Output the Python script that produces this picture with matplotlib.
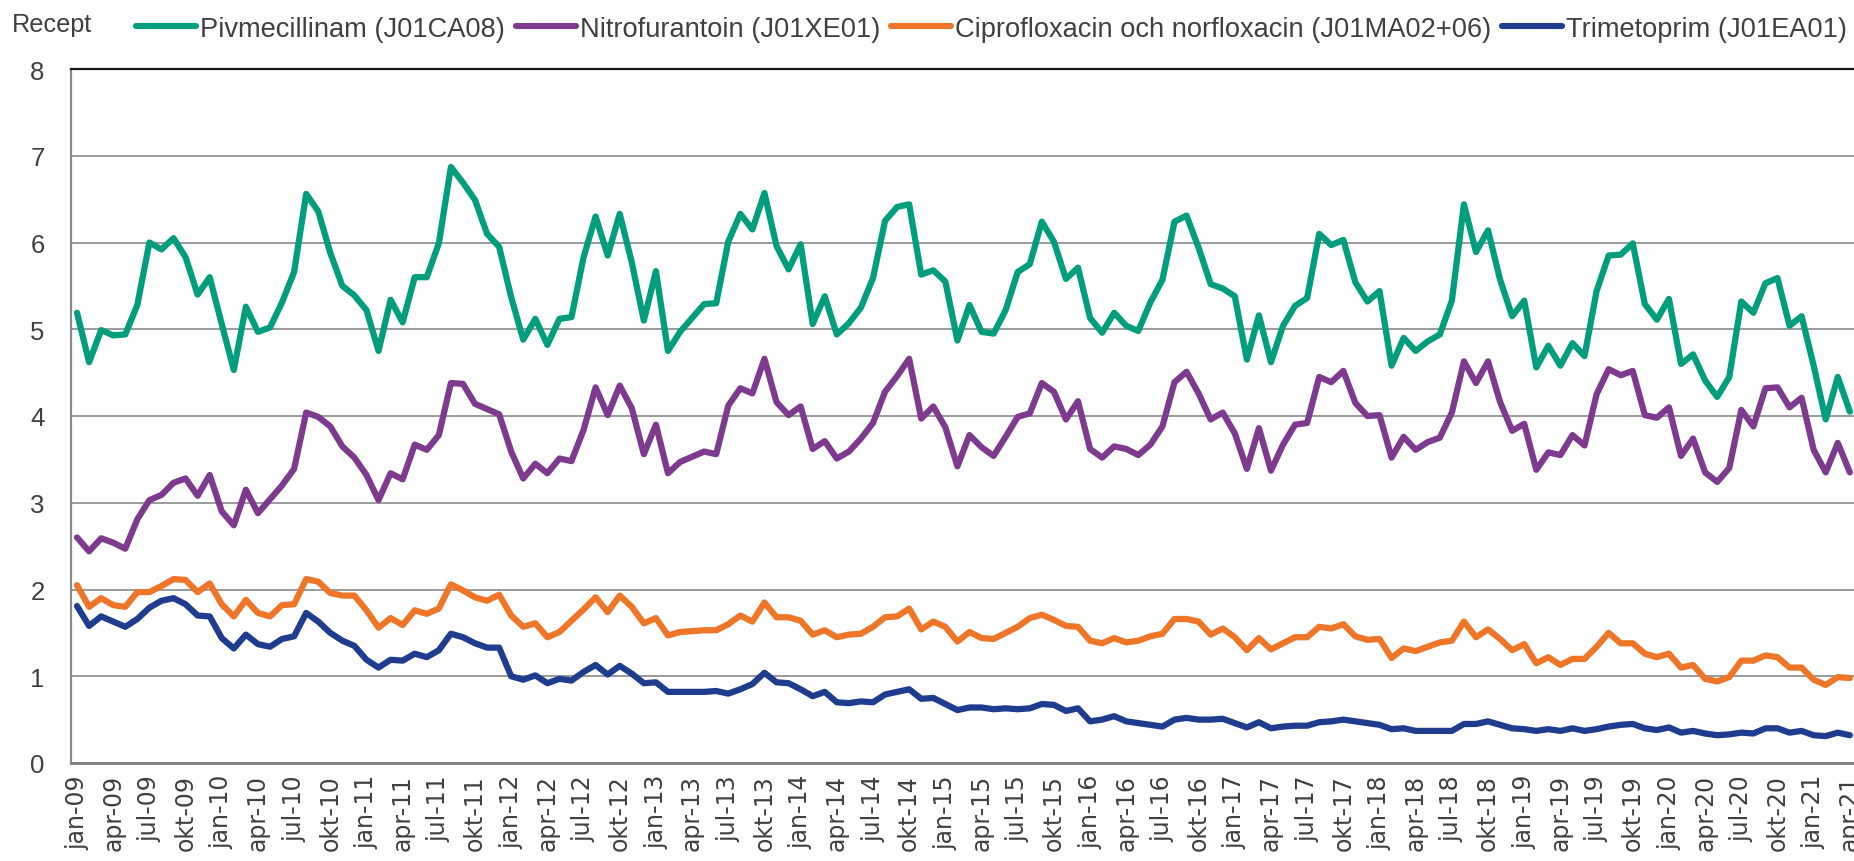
import matplotlib
matplotlib.use("Agg")
import matplotlib.pyplot as plt
import numpy as np

# ---------------- data (monthly, jan-09 .. apr-21) ----------------
month_names = ["jan", "feb", "mar", "apr", "maj", "jun", "jul", "aug", "sep", "okt", "nov", "dec"]
years = list(range(9, 22))

pivmecillinam = [
    5.19, 4.62, 4.99, 4.93, 4.94, 5.28, 6.00, 5.92, 6.05, 5.83, 5.40, 5.60,
    5.06, 4.53, 5.26, 4.97, 5.02, 5.31, 5.66, 6.56, 6.36, 5.88, 5.50, 5.39,
    5.22, 4.75, 5.34, 5.08, 5.60, 5.60, 5.99, 6.87, 6.69, 6.49, 6.10, 5.95,
    5.37, 4.88, 5.12, 4.82, 5.12, 5.14, 5.83, 6.30, 5.85, 6.33, 5.77, 5.10,
    5.67, 4.75, 4.97, 5.13, 5.29, 5.30, 6.01, 6.33, 6.15, 6.57, 5.96, 5.69,
    5.98, 5.06, 5.38, 4.94, 5.07, 5.25, 5.59, 6.25, 6.41, 6.44, 5.63, 5.68,
    5.55, 4.87, 5.28, 4.97, 4.95, 5.22, 5.66, 5.75, 6.24, 6.01, 5.58, 5.71,
    5.13, 4.96, 5.19, 5.04, 4.98, 5.31, 5.57, 6.24, 6.31, 5.94, 5.52, 5.47,
    5.38, 4.65, 5.16, 4.62, 5.04, 5.27, 5.36, 6.10, 5.97, 6.03, 5.54, 5.32,
    5.44, 4.58, 4.90, 4.75, 4.86, 4.94, 5.33, 6.44, 5.89, 6.14, 5.57, 5.15,
    5.33, 4.56, 4.81, 4.58, 4.84, 4.69, 5.44, 5.85, 5.86, 5.99, 5.29, 5.11,
    5.35, 4.60, 4.71, 4.41, 4.22, 4.45, 5.32, 5.19, 5.53, 5.59, 5.04, 5.15,
    4.58, 3.96, 4.45, 4.05,
]

nitrofurantoin = [
    2.60, 2.44, 2.59, 2.54, 2.47, 2.81, 3.03, 3.09, 3.23, 3.28, 3.08, 3.32,
    2.90, 2.74, 3.15, 2.88, 3.04, 3.20, 3.39, 4.04, 3.99, 3.88, 3.65, 3.52,
    3.32, 3.03, 3.34, 3.27, 3.67, 3.61, 3.78, 4.38, 4.37, 4.14, 4.08, 4.02,
    3.59, 3.28, 3.45, 3.34, 3.51, 3.48, 3.84, 4.33, 4.01, 4.35, 4.09, 3.56,
    3.90, 3.34, 3.47, 3.53, 3.59, 3.56, 4.12, 4.32, 4.26, 4.66, 4.16, 4.01,
    4.11, 3.62, 3.71, 3.51, 3.59, 3.74, 3.92, 4.28, 4.46, 4.66, 3.97, 4.11,
    3.87, 3.42, 3.78, 3.64, 3.54, 3.76, 3.99, 4.03, 4.38, 4.28, 3.96, 4.17,
    3.62, 3.52, 3.65, 3.62, 3.55, 3.67, 3.88, 4.39, 4.51, 4.26, 3.96, 4.04,
    3.80, 3.39, 3.86, 3.37, 3.67, 3.90, 3.92, 4.45, 4.39, 4.52, 4.15, 4.00,
    4.01, 3.52, 3.76, 3.61, 3.70, 3.75, 4.04, 4.63, 4.38, 4.63, 4.16, 3.83,
    3.91, 3.38, 3.58, 3.55, 3.78, 3.66, 4.25, 4.54, 4.47, 4.52, 4.01, 3.98,
    4.10, 3.54, 3.74, 3.35, 3.24, 3.40, 4.07, 3.88, 4.32, 4.33, 4.10, 4.21,
    3.61, 3.35, 3.69, 3.35,
]

cipro_norflox = [
    2.05, 1.80, 1.90, 1.82, 1.80, 1.97, 1.97, 2.04, 2.12, 2.11, 1.97, 2.07,
    1.83, 1.69, 1.88, 1.73, 1.69, 1.82, 1.83, 2.12, 2.09, 1.96, 1.93, 1.93,
    1.76, 1.56, 1.67, 1.59, 1.76, 1.72, 1.78, 2.06, 1.99, 1.91, 1.87, 1.94,
    1.70, 1.57, 1.61, 1.45, 1.51, 1.64, 1.77, 1.91, 1.74, 1.93, 1.80, 1.61,
    1.67, 1.47, 1.51, 1.52, 1.53, 1.53, 1.60, 1.70, 1.63, 1.85, 1.68, 1.68,
    1.64, 1.48, 1.53, 1.45, 1.48, 1.49, 1.57, 1.68, 1.69, 1.78, 1.54, 1.63,
    1.57, 1.40, 1.51, 1.44, 1.43, 1.50, 1.57, 1.67, 1.71, 1.65, 1.58, 1.57,
    1.41, 1.38, 1.44, 1.39, 1.41, 1.46, 1.49, 1.66, 1.66, 1.63, 1.48, 1.55,
    1.45, 1.30, 1.44, 1.31, 1.38, 1.45, 1.45, 1.57, 1.55, 1.60, 1.46, 1.42,
    1.43, 1.21, 1.32, 1.29, 1.34, 1.39, 1.41, 1.63, 1.45, 1.54, 1.43, 1.30,
    1.37, 1.15, 1.22, 1.13, 1.20, 1.20, 1.34, 1.50, 1.38, 1.38, 1.26, 1.22,
    1.26, 1.10, 1.13, 0.97, 0.94, 0.99, 1.18, 1.18, 1.24, 1.22, 1.10, 1.10,
    0.96, 0.90, 0.99, 0.98,
]

trimetoprim = [
    1.81, 1.58, 1.69, 1.63, 1.57, 1.66, 1.79, 1.87, 1.90, 1.83, 1.70, 1.69,
    1.44, 1.32, 1.48, 1.37, 1.34, 1.43, 1.46, 1.73, 1.63, 1.50, 1.41, 1.35,
    1.19, 1.10, 1.19, 1.18, 1.26, 1.22, 1.30, 1.49, 1.45, 1.38, 1.33, 1.33,
    1.00, 0.96, 1.01, 0.92, 0.97, 0.95, 1.05, 1.13, 1.02, 1.12, 1.03, 0.92,
    0.93, 0.82, 0.82, 0.82, 0.82, 0.83, 0.80, 0.85, 0.91, 1.04, 0.93, 0.92,
    0.85, 0.77, 0.82, 0.70, 0.69, 0.71, 0.70, 0.79, 0.82, 0.85, 0.74, 0.75,
    0.68, 0.61, 0.64, 0.64, 0.62, 0.63, 0.62, 0.63, 0.68, 0.67, 0.60, 0.63,
    0.48, 0.50, 0.54, 0.48, 0.46, 0.44, 0.42, 0.50, 0.52, 0.50, 0.50, 0.51,
    0.46, 0.41, 0.47, 0.40, 0.42, 0.43, 0.43, 0.47, 0.48, 0.50, 0.48, 0.46,
    0.44, 0.39, 0.40, 0.37, 0.37, 0.37, 0.37, 0.45, 0.45, 0.48, 0.44, 0.40,
    0.39, 0.37, 0.39, 0.37, 0.40, 0.37, 0.39, 0.42, 0.44, 0.45, 0.40, 0.38,
    0.41, 0.35, 0.37, 0.34, 0.32, 0.33, 0.35, 0.34, 0.40, 0.40, 0.35, 0.37,
    0.32, 0.31, 0.35, 0.32,
]

series_names = [
    "Pivmecillinam (J01CA08)",
    "Nitrofurantoin (J01XE01)",
    "Ciprofloxacin och norfloxacin (J01MA02+06)",
    "Trimetoprim (J01EA01)",
]
series_colors = ["#009e7c", "#7e3a8e", "#ef7528", "#1f3c8f"]
y_label = "Recept"

categories = [f"{m}-{y:02d}" for y in years for m in month_names][: len(pivmecillinam)]

# ---------------- figure ----------------
W, H = 1854, 862
fig = plt.figure(figsize=(W / 100, H / 100), dpi=100)
fig.patch.set_facecolor("white")

n = len(categories)
left_px, right_px, top_px, bottom_px = 71, 71 + 12.06 * n, 70, 764
ax = fig.add_axes([left_px / W, (H - bottom_px) / H,
                   (right_px - left_px) / W, (bottom_px - top_px) / H])

x = np.arange(n)
series = [pivmecillinam, nitrofurantoin, cipro_norflox, trimetoprim]
for vals, name, col in zip(series, series_names, series_colors):
    ax.plot(x, vals, color=col, lw=4.5, label=name,
            solid_joinstyle="round", solid_capstyle="round", zorder=3)

ax.set_xlim(-0.5, n - 0.5)
ax.set_ylim(0, 8)
ax.set_yticks(range(0, 9))
ax.yaxis.grid(True, color="#9b9b9b", lw=1.4, zorder=0)
ax.set_axisbelow(True)

tick_idx = list(range(0, n, 3))
ax.set_xticks(tick_idx)
ax.set_xticklabels([categories[i] for i in tick_idx], rotation=90,
                   fontfamily="DejaVu Sans", fontsize=17, color="#404040")
ax.tick_params(axis="x", length=0, pad=8)
ax.tick_params(axis="y", length=0, pad=19, labelsize=18.5, labelcolor="#404040")
for lab in ax.get_yticklabels():
    lab.set_fontfamily("Liberation Sans")

ax.spines["right"].set_visible(False)
ax.spines["left"].set_color("#8a8a8a")
ax.spines["left"].set_linewidth(1.6)
ax.spines["bottom"].set_color("#7f7f7f")
ax.spines["bottom"].set_linewidth(2.0)
ax.spines["top"].set_color("#1a1a1a")
ax.spines["top"].set_linewidth(1.6)

fig.text(12 / W, 1 - 32 / H, y_label, fontsize=18.2, family="Liberation Sans",
         color="#404040", va="baseline", ha="left")

leg = fig.legend(loc="center left", bbox_to_anchor=(136 / W, 1 - 30 / H),
                 ncol=4, frameon=False,
                 prop={"family": "Liberation Sans", "size": 19.6},
                 handlelength=2.2, handletextpad=0.15, columnspacing=0.4,
                 borderpad=0, borderaxespad=0)
for t in leg.get_texts():
    t.set_color("#404040")
for h in leg.get_lines():
    h.set_linewidth(4.4)

fig.savefig("out.png", dpi=100, facecolor="white")
